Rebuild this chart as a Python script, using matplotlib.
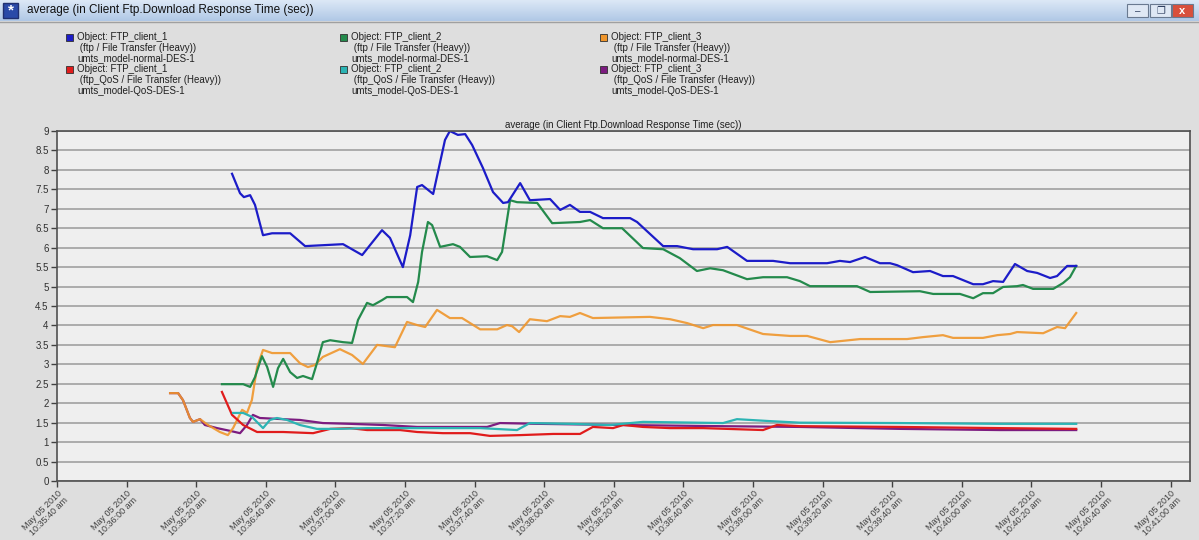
import numpy as np
import matplotlib.pyplot as plt
from matplotlib.patches import Rectangle

plt.rcParams["font.family"] = ["Liberation Sans", "DejaVu Sans"]

# time in seconds after May 05 2010 10:35:40 am, values in sec
blue_t = [50.3, 52.6, 53.7, 55.5, 56.9, 59.2, 61.8, 67.0, 71.3, 82.2, 87.7, 90.0, 93.4, 95.7, 99.4,
          101.5, 103.5, 104.9, 108.1, 110.1, 111.5, 112.9, 115.2, 117.3, 119.3, 122.4, 125.3, 128.2,
          129.6, 133.1, 135.9, 141.7, 144.6, 147.4, 150.3, 153.2, 156.9, 164.7, 166.7, 174.2, 178.2,
          182.8, 189.7, 192.6, 198.3, 205.8, 210.7, 221.3, 225.0, 227.9, 232.2, 236.5, 239.4, 241.4,
          246.0, 250.9, 254.6, 257.5, 263.3, 266.1, 269.0, 271.9, 275.3, 278.8, 281.7, 285.4, 287.4,
          290.3, 292.9]
blue_v = [7.9, 7.4, 7.3, 7.35, 7.1, 6.32, 6.37, 6.37, 6.04, 6.09, 5.81, 6.07, 6.45, 6.25, 5.5,
          6.32, 7.56, 7.61, 7.38, 8.2, 8.77, 9.0, 8.9, 8.92, 8.64, 8.05, 7.43, 7.15,
          7.17, 7.66, 7.22, 7.25, 6.97, 7.1, 6.92, 6.92, 6.76, 6.76, 6.66, 6.04, 6.04,
          5.96, 5.96, 6.02, 5.66, 5.66, 5.6, 5.6, 5.66, 5.63, 5.76, 5.6, 5.6, 5.55,
          5.37, 5.4, 5.27, 5.27, 5.06, 5.06, 5.14, 5.12, 5.58, 5.4, 5.35, 5.22, 5.27,
          5.53, 5.53]

green_t = [47.4, 53.5, 55.5, 56.9, 58.9, 60.4, 62.1, 63.5, 65.0, 67.0, 69.0, 70.7, 73.3, 74.7, 76.4,
           78.5, 82.2, 84.8, 86.5, 89.1, 90.8, 93.4, 94.8, 100.6, 102.3, 103.8, 104.9, 106.6, 107.8,
           110.1, 113.8, 115.8, 118.7, 123.6, 126.5, 127.9, 130.2, 132.2, 138.0, 142.3, 150.3, 153.2,
           156.9, 162.4, 168.4, 174.2, 179.0, 183.9, 187.7, 191.4, 198.3, 202.9, 209.8, 213.5, 216.4,
           229.9, 233.7, 248.0, 251.8, 259.5, 263.3, 266.1, 269.0, 271.9, 275.9, 277.6, 280.5, 286.3,
           289.1, 291.1, 292.9]
green_v = [2.49, 2.49, 2.42, 2.67, 3.21, 2.93, 2.42, 2.9, 3.14, 2.8, 2.65, 2.7, 2.62, 3.03, 3.57,
           3.62, 3.57, 3.55, 4.14, 4.58, 4.52, 4.65, 4.73, 4.73, 4.6, 5.12, 5.89, 6.66, 6.58,
           6.02, 6.09, 6.02, 5.76, 5.78, 5.68, 5.89, 7.22, 7.17, 7.15, 6.63, 6.66, 6.71,
           6.5, 6.5, 5.99, 5.96, 5.73, 5.4, 5.47, 5.42, 5.19, 5.24, 5.24, 5.14, 5.01,
           5.01, 4.86, 4.88, 4.81, 4.81, 4.7, 4.83, 4.83, 4.99, 5.01, 5.04, 4.94, 4.94,
           5.09, 5.24, 5.53]

orange_t = [32.5, 34.8, 36.2, 38.2, 39.1, 41.1, 43.4, 46.8, 49.1, 50.6, 53.2, 54.6, 56.0, 57.5, 59.2,
            61.8, 67.0, 69.8, 72.1, 74.1, 76.4, 81.3, 84.8, 87.9, 92.0, 97.1, 100.6, 103.5, 105.8,
            109.2, 112.9, 116.4, 121.6, 126.5, 129.3, 130.8, 132.8, 135.9, 140.8, 144.6, 147.4, 150.3,
            154.0, 170.4, 176.2, 181.1, 185.7, 188.5, 195.4, 202.9, 210.7, 215.6, 222.2, 230.8, 244.3,
            248.9, 254.6, 257.5, 266.1, 270.2, 273.9, 275.9, 283.4, 287.4, 289.7, 292.9]
orange_v = [2.26, 2.26, 2.08, 1.62, 1.52, 1.59, 1.44, 1.26, 1.18, 1.36, 1.83, 1.75, 2.08, 2.93, 3.37,
            3.29, 3.29, 3.03, 2.93, 2.98, 3.19, 3.39, 3.24, 3.01, 3.5, 3.44, 4.09, 4.01, 3.96,
            4.4, 4.19, 4.19, 3.9, 3.9, 4.01, 3.98, 3.83, 4.16, 4.11, 4.24, 4.22, 4.32,
            4.19, 4.22, 4.16, 4.06, 3.93, 4.01, 4.01, 3.78, 3.73, 3.73, 3.57, 3.65, 3.65,
            3.7, 3.75, 3.68, 3.68, 3.75, 3.78, 3.83, 3.8, 3.96, 3.93, 4.32]

red_t = [47.4, 50.3, 53.5, 57.5, 65.0, 73.6, 78.5, 84.2, 89.1, 98.6, 103.5, 110.9, 118.7, 124.4,
         133.1, 142.6, 150.3, 154.0, 159.8, 162.7, 168.4, 176.2, 185.7, 202.9, 206.9, 213.5,
         242.3, 271.0, 292.9]
red_v = [2.29, 1.7, 1.44, 1.26, 1.26, 1.23, 1.34, 1.36, 1.31, 1.31, 1.26, 1.23, 1.23, 1.16,
         1.18, 1.21, 1.21, 1.39, 1.36, 1.44, 1.39, 1.36, 1.36, 1.31, 1.44, 1.41,
         1.39, 1.36, 1.34]

cyan_t = [50.6, 53.5, 56.0, 59.2, 61.2, 63.2, 66.1, 69.8, 74.7, 80.5, 89.1, 103.5, 121.6, 132.2,
          135.9, 147.4, 158.9, 168.4, 191.4, 195.4, 204.9, 213.5, 242.3, 271.0, 292.9]
cyan_v = [1.75, 1.75, 1.65, 1.36, 1.57, 1.62, 1.57, 1.44, 1.34, 1.34, 1.36, 1.36, 1.36, 1.31,
          1.49, 1.47, 1.44, 1.52, 1.49, 1.59, 1.54, 1.5, 1.49, 1.47, 1.47]

purple_t = [32.5, 34.8, 36.2, 38.2, 39.1, 41.1, 42.5, 46.0, 49.7, 52.6, 54.6, 56.3, 58.3, 65.0,
            69.8, 76.4, 84.2, 93.7, 103.5, 118.7, 123.6, 127.3, 138.0, 161.8, 190.5, 213.5,
            242.3, 271.0, 292.9]
purple_v = [2.26, 2.26, 2.08, 1.62, 1.52, 1.59, 1.44, 1.36, 1.29, 1.23, 1.44, 1.7, 1.62, 1.59,
            1.57, 1.49, 1.47, 1.44, 1.39, 1.39, 1.39, 1.49, 1.47, 1.44, 1.41, 1.39,
            1.34, 1.31, 1.31]

tick_secs = list(range(0, 321, 20))
tick_labels = ["May 05 2010\n10:35:40 am", "May 05 2010\n10:36:00 am", "May 05 2010\n10:36:20 am",
               "May 05 2010\n10:36:40 am", "May 05 2010\n10:37:00 am", "May 05 2010\n10:37:20 am",
               "May 05 2010\n10:37:40 am", "May 05 2010\n10:38:00 am", "May 05 2010\n10:38:20 am",
               "May 05 2010\n10:38:40 am", "May 05 2010\n10:39:00 am", "May 05 2010\n10:39:20 am",
               "May 05 2010\n10:39:40 am", "May 05 2010\n10:40:00 am", "May 05 2010\n10:40:20 am",
               "May 05 2010\n10:40:40 am", "May 05 2010\n10:41:00 am"]

legend_lines = [
    ["Object: FTP_client_1", " (ftp / File Transfer (Heavy))", "umts_model-normal-DES-1"],
    ["Object: FTP_client_1", " (ftp_QoS / File Transfer (Heavy))", "umts_model-QoS-DES-1"],
    ["Object: FTP_client_2", " (ftp / File Transfer (Heavy))", "umts_model-normal-DES-1"],
    ["Object: FTP_client_2", " (ftp_QoS / File Transfer (Heavy))", "umts_model-QoS-DES-1"],
    ["Object: FTP_client_3", " (ftp / File Transfer (Heavy))", "umts_model-normal-DES-1"],
    ["Object: FTP_client_3", " (ftp_QoS / File Transfer (Heavy))", "umts_model-QoS-DES-1"],
]
colors = ["#1c1cc8", "#e01c1c", "#248a4c", "#2cb4b4", "#f0962c", "#7c1c80"]
title = "average (in Client Ftp.Download Response Time (sec))"

W, H = 1199, 540
fig = plt.figure(figsize=(W / 100, H / 100), dpi=100, facecolor="#dedede")


def fx(px):
    return px / W


def fy(py):
    return 1 - py / H


# window title bar
bar = fig.add_axes([0, fy(21), 1, 21 / H])
bar.imshow(np.linspace(0, 1, 50).reshape(-1, 1), aspect="auto", cmap=plt.cm.colors.LinearSegmentedColormap.from_list("b", ["#dce8f6", "#b0c8e6"]), extent=[0, 1, 0, 1])
bar.set_axis_off()
fig.patches.append(Rectangle((fx(3), fy(18)), 15 / W, 15 / H, transform=fig.transFigure,
                             facecolor="#2a4aa8", edgecolor="#203070"))
fig.text(fx(10.5), fy(10.5), "*", color="white", fontsize=11, ha="center", va="center", weight="bold")
fig.text(fx(27), fy(10.5), title, fontsize=8.5, va="center", color="#101010")
for x0, fc in [(1127, "#dfe8f4"), (1150, "#dfe8f4"), (1172, "#d8503c")]:
    fig.patches.append(Rectangle((fx(x0), fy(17)), 21 / W, 13 / H, transform=fig.transFigure,
                                 facecolor=fc, edgecolor="#6a7a90", lw=0.8))
fig.text(fx(1137.5), fy(11), "–", fontsize=7, ha="center", va="center", color="#304060")
fig.text(fx(1160.5), fy(10.5), "❐", fontsize=7, ha="center", va="center", color="#304060")
fig.text(fx(1182.5), fy(10.5), "x", fontsize=8, ha="center", va="center", color="white", weight="bold")
fig.lines.append(plt.Line2D([0, 1], [fy(22), fy(22)], transform=fig.transFigure, color="#a0a0a0", lw=1))

# legend block
col_x = [66, 66, 340, 340, 600, 600]
row_y = [37, 69, 37, 69, 37, 69]
for lines, c, x0, y0 in zip(legend_lines, colors, col_x, row_y):
    fig.patches.append(Rectangle((fx(x0), fy(y0 + 4)), 7 / W, 7 / H, transform=fig.transFigure,
                                 facecolor=c, edgecolor="#303030", lw=0.6))
    for i, s in enumerate(lines):
        fig.text(fx(x0 + 11), fy(y0 + i * 10.8), s, fontsize=7, va="center", color="#202020")

ax = fig.add_axes([fx(57), fy(481), (1190 - 57) / W, (481 - 131) / H])
ax.set_facecolor("#efefef")
ax.plot(purple_t, purple_v, color=colors[5], lw=1.6)
ax.plot(orange_t, orange_v, color=colors[4], lw=1.6, alpha=0.9)
ax.plot(red_t, red_v, color=colors[1], lw=1.6)
ax.plot(cyan_t, cyan_v, color=colors[3], lw=1.6)
ax.plot(green_t, green_v, color=colors[2], lw=1.6)
ax.plot(blue_t, blue_v, color=colors[0], lw=1.6)

ax.set_xlim(0, 325.6)
ax.set_ylim(0, 9)
yt = np.arange(0, 9.01, 0.5)
ax.set_yticks(yt)
ax.set_yticklabels(["%g" % v for v in yt], fontsize=7, color="#303030")
ax.set_xticks(tick_secs)
ax.set_xticklabels(tick_labels, fontsize=6.5, color="#404040", rotation=45, ha="right",
                   va="top", rotation_mode="anchor", linespacing=0.95)
ax.yaxis.grid(True, color="#a0a0a0", lw=1.2)
ax.set_axisbelow(True)
ax.tick_params(length=4, width=1, color="#404040", pad=2)
for sp in ax.spines.values():
    sp.set_color("#505050")
    sp.set_linewidth(1.2)
ax.set_title(title, fontsize=7, pad=2, color="#202020")

fig.savefig("out.png", dpi=100, facecolor=fig.get_facecolor())
